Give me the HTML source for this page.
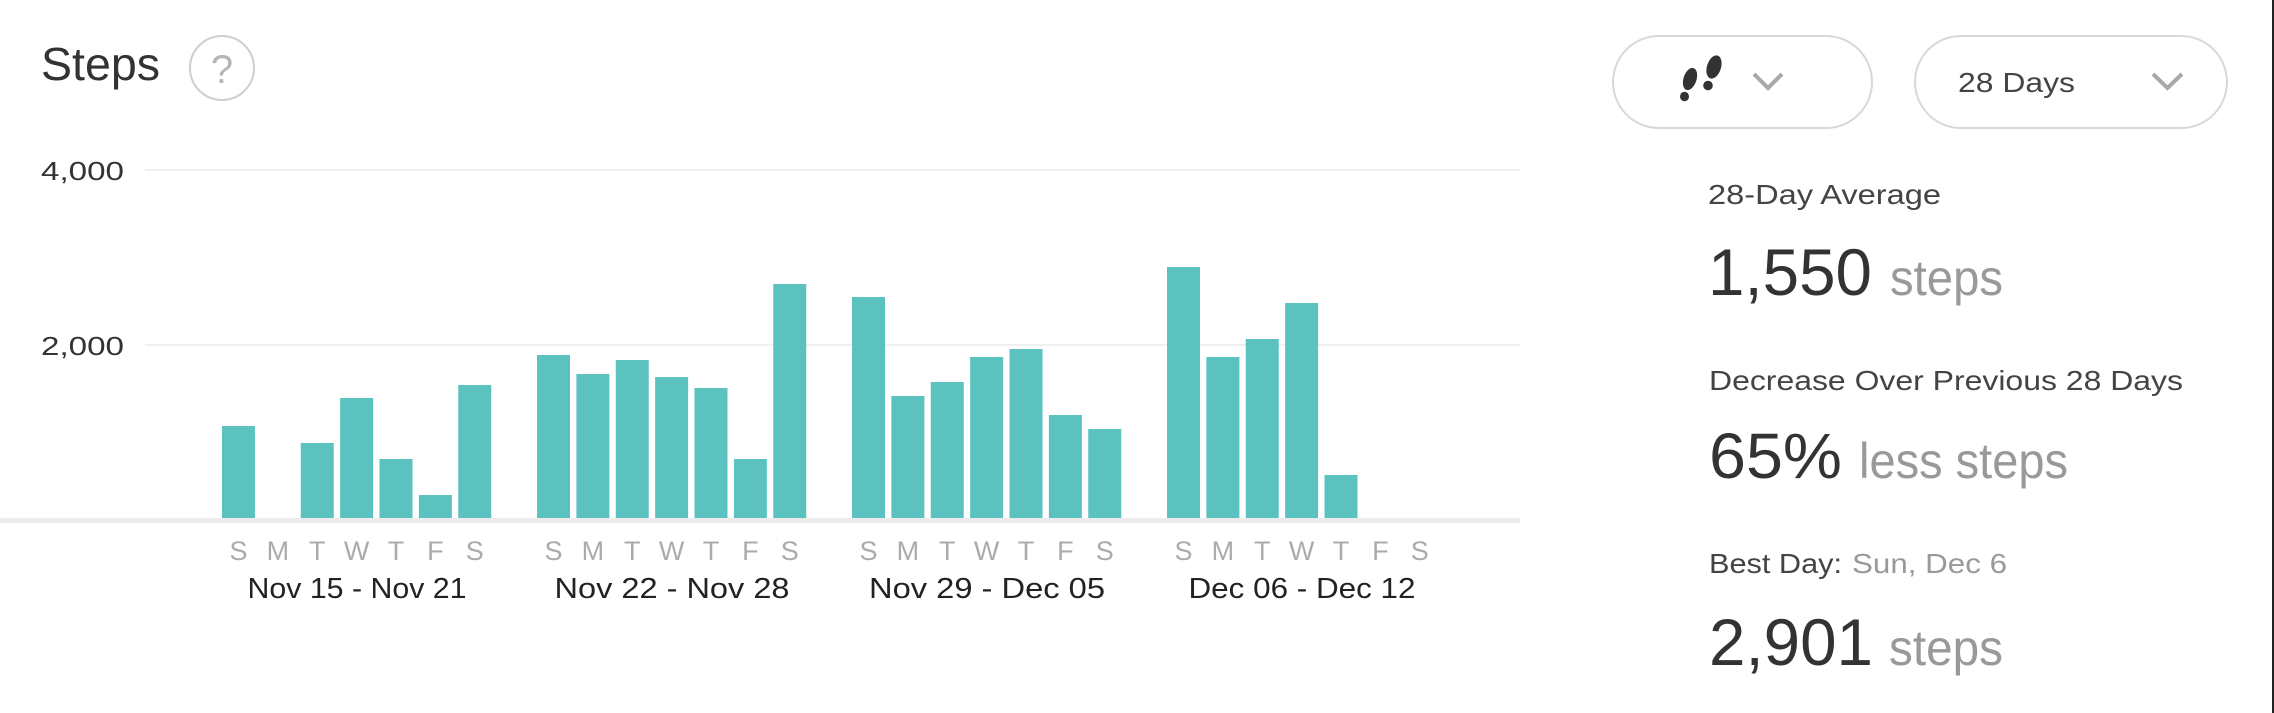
<!DOCTYPE html>
<html>
<head>
<meta charset="utf-8">
<style>
  html,body{margin:0;padding:0;background:#fff;}
  svg{display:block;}
  text{font-family:"Liberation Sans",Arial,sans-serif;}
</style>
</head>
<body>
<svg width="2274" height="713" viewBox="0 0 2274 713" xmlns="http://www.w3.org/2000/svg">
  <rect x="0" y="0" width="2274" height="713" fill="#ffffff"/>
  <!-- right border -->
  <rect x="2272" y="0" width="2" height="713" fill="#222"/>

  <!-- Title -->
  <text x="41" y="80" font-size="46" fill="#333" textLength="119" lengthAdjust="spacingAndGlyphs">Steps</text>
  <circle cx="222" cy="68" r="32" fill="none" stroke="#cfcfcf" stroke-width="2"/>
  <text x="222" y="83" font-size="40" fill="#b5b5b5" text-anchor="middle">?</text>

  <!-- gridlines -->
  <rect x="145" y="169" width="1375" height="2" fill="#f0f0f0"/>
  <rect x="145" y="344" width="1375" height="2" fill="#f0f0f0"/>

  <!-- y labels -->
  <text x="41" y="180" font-size="26" fill="#333" textLength="83" lengthAdjust="spacingAndGlyphs">4,000</text>
  <text x="41" y="355" font-size="26" fill="#333" textLength="83" lengthAdjust="spacingAndGlyphs">2,000</text>

  <!-- bars -->
  <g fill="#5bc2c0">
    <!-- week 1 -->
    <rect x="222" y="426" width="33" height="93"/>
    <rect x="300.75" y="443" width="33" height="76"/>
    <rect x="340.125" y="398" width="33" height="121"/>
    <rect x="379.5" y="459" width="33" height="60"/>
    <rect x="418.875" y="495" width="33" height="24"/>
    <rect x="458.25" y="385" width="33" height="134"/>
    <!-- week 2 -->
    <rect x="537" y="355" width="33" height="164"/>
    <rect x="576.375" y="374" width="33" height="145"/>
    <rect x="615.75" y="360" width="33" height="159"/>
    <rect x="655.125" y="377" width="33" height="142"/>
    <rect x="694.5" y="388" width="33" height="131"/>
    <rect x="733.875" y="459" width="33" height="60"/>
    <rect x="773.25" y="284" width="33" height="235"/>
    <!-- week 3 -->
    <rect x="852" y="297" width="33" height="222"/>
    <rect x="891.375" y="396" width="33" height="123"/>
    <rect x="930.75" y="382" width="33" height="137"/>
    <rect x="970.125" y="357" width="33" height="162"/>
    <rect x="1009.5" y="349" width="33" height="170"/>
    <rect x="1048.875" y="415" width="33" height="104"/>
    <rect x="1088.25" y="429" width="33" height="90"/>
    <!-- week 4 -->
    <rect x="1167" y="267" width="33" height="252"/>
    <rect x="1206.375" y="357" width="33" height="162"/>
    <rect x="1245.75" y="339" width="33" height="180"/>
    <rect x="1285.125" y="303" width="33" height="216"/>
    <rect x="1324.5" y="475" width="33" height="44"/>
  </g>

  <!-- baseline -->
  <rect x="0" y="518" width="1520" height="5" fill="#ececec"/>

  <!-- day labels -->
  <g font-size="27" fill="#ababab" text-anchor="middle">
    <text x="238.5" y="560">S</text><text x="277.9" y="560">M</text><text x="317.3" y="560">T</text><text x="356.6" y="560">W</text><text x="396" y="560">T</text><text x="435.4" y="560">F</text><text x="474.8" y="560">S</text>
    <text x="553.5" y="560">S</text><text x="592.9" y="560">M</text><text x="632.3" y="560">T</text><text x="671.6" y="560">W</text><text x="711" y="560">T</text><text x="750.4" y="560">F</text><text x="789.8" y="560">S</text>
    <text x="868.5" y="560">S</text><text x="907.9" y="560">M</text><text x="947.3" y="560">T</text><text x="986.6" y="560">W</text><text x="1026" y="560">T</text><text x="1065.4" y="560">F</text><text x="1104.8" y="560">S</text>
    <text x="1183.5" y="560">S</text><text x="1222.9" y="560">M</text><text x="1262.3" y="560">T</text><text x="1301.6" y="560">W</text><text x="1341" y="560">T</text><text x="1380.4" y="560">F</text><text x="1419.8" y="560">S</text>
  </g>

  <!-- date labels -->
  <g font-size="29" fill="#222" text-anchor="middle">
    <text x="357" y="598" textLength="219" lengthAdjust="spacingAndGlyphs">Nov 15 - Nov 21</text>
    <text x="672" y="598" textLength="235" lengthAdjust="spacingAndGlyphs">Nov 22 - Nov 28</text>
    <text x="987" y="598" textLength="236" lengthAdjust="spacingAndGlyphs">Nov 29 - Dec 05</text>
    <text x="1302" y="598" textLength="227" lengthAdjust="spacingAndGlyphs">Dec 06 - Dec 12</text>
  </g>

  <!-- dropdowns -->
  <rect x="1613" y="36" width="259" height="92" rx="46" ry="46" fill="#fff" stroke="#d8d8d8" stroke-width="2"/>
  <rect x="1915" y="36" width="312" height="92" rx="46" ry="46" fill="#fff" stroke="#d8d8d8" stroke-width="2"/>
  <!-- footprints -->
  <g fill="#333">
    <ellipse cx="1690" cy="79" rx="6.5" ry="11.5" transform="rotate(18 1690 79)"/>
    <ellipse cx="1684.5" cy="96.5" rx="4.5" ry="4.8"/>
    <ellipse cx="1714" cy="67" rx="7" ry="12" transform="rotate(18 1714 67)"/>
    <ellipse cx="1708" cy="85.5" rx="4.8" ry="4.8"/>
  </g>
  <polyline points="1754,74 1768,88 1782,74" fill="none" stroke="#a8a8a8" stroke-width="4"/>
  <text x="1958" y="92" font-size="28" fill="#444" textLength="117" lengthAdjust="spacingAndGlyphs">28 Days</text>
  <polyline points="2153,74 2167.5,88 2182,74" fill="none" stroke="#a8a8a8" stroke-width="4"/>

  <!-- stats -->
  <text x="1708" y="204" font-size="28" fill="#444" textLength="233" lengthAdjust="spacingAndGlyphs">28-Day Average</text>
  <text x="1708" y="295" font-size="66" fill="#333" textLength="164" lengthAdjust="spacingAndGlyphs">1,550</text>
  <text x="1890" y="295" font-size="50" fill="#999" textLength="113" lengthAdjust="spacingAndGlyphs">steps</text>

  <text x="1709" y="390" font-size="28" fill="#444" textLength="474" lengthAdjust="spacingAndGlyphs">Decrease Over Previous 28 Days</text>
  <text x="1709" y="478" font-size="64" fill="#333" textLength="133" lengthAdjust="spacingAndGlyphs">65%</text>
  <text x="1859" y="478" font-size="50" fill="#999" textLength="209" lengthAdjust="spacingAndGlyphs">less steps</text>

  <text x="1709" y="573" font-size="28" fill="#444" textLength="133" lengthAdjust="spacingAndGlyphs">Best Day:</text>
  <text x="1852" y="573" font-size="28" fill="#999" textLength="155" lengthAdjust="spacingAndGlyphs">Sun, Dec 6</text>
  <text x="1709" y="665" font-size="66" fill="#333" textLength="164" lengthAdjust="spacingAndGlyphs">2,901</text>
  <text x="1889" y="665" font-size="50" fill="#999" textLength="114" lengthAdjust="spacingAndGlyphs">steps</text>
</svg>
</body>
</html>
